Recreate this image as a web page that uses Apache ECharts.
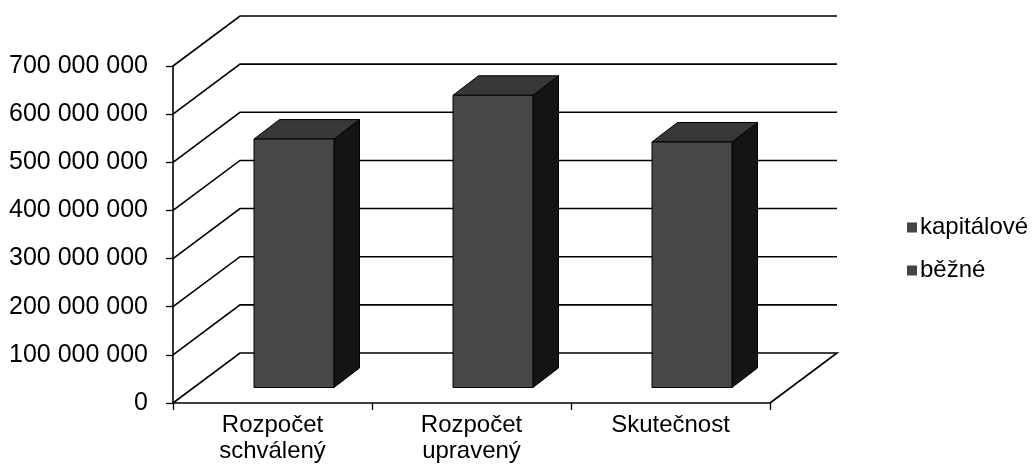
<!DOCTYPE html>
<html>
<head>
<meta charset="utf-8">
<script src="https://cdn.jsdelivr.net/npm/echarts@6/dist/echarts.min.js"></script>
<style>
html,body{margin:0;padding:0;background:#fff;}
#c{width:1035px;height:475px;}
</style>
</head>
<body>
<div id="c"></div>
<script>
const categories = ['Rozpočet\nschválený', 'Rozpočet\nupravený', 'Skutečnost'];
const bezne = [516000000, 607000000, 510000000];
const kapitalove = [0, 0, 0];
const yTicks = [0, 100000000, 200000000, 300000000, 400000000, 500000000, 600000000, 700000000];

const DX = 67, DY = -50;           // depth of back wall
const OX = 21.5, OY = -15.5;       // bar front offset into depth
const BDX = 25.5, BDY = -19.5;     // bar depth
const FONT = 'Liberation Sans, Arial, sans-serif';

function fmt(v) { return String(v).replace(/\B(?=(\d{3})+(?!\d))/g, ' '); }

// stacked data: [catIndex, base, top]
const bezneData = bezne.map((v, i) => [i, 0, v]);
const kapData = kapitalove.map((v, i) => [i, bezne[i], bezne[i] + v]);

function barRender(params, api) {
  const cat = api.value(0), base = api.value(1), top = api.value(2);
  if (top <= base) return null;
  const c = api.coord([cat, base]);
  const t = api.coord([cat, top]);
  const band = api.size([1, 0])[0];
  const w = band * 0.402;
  const x0 = c[0] - w / 2 + OX, x1 = x0 + w;
  const yb = c[1] + OY, yt = t[1] + OY;
  const stroke = '#000';
  return {
    type: 'group',
    children: [
      { type: 'polygon', shape: { points: [[x1, yt], [x1 + BDX, yt + BDY], [x1 + BDX, yb + BDY], [x1, yb]] },
        style: { fill: '#141414', stroke: stroke, lineWidth: 1 } },
      { type: 'polygon', shape: { points: [[x0, yt], [x0 + BDX, yt + BDY], [x1 + BDX, yt + BDY], [x1, yt]] },
        style: { fill: '#383838', stroke: stroke, lineWidth: 1 } },
      { type: 'polygon', shape: { points: [[x0, yt], [x1, yt], [x1, yb], [x0, yb]] },
        style: { fill: '#474747', stroke: stroke, lineWidth: 1 } }
    ]
  };
}

function wallRender(params, api) {
  const v = api.value(1);
  const cs = params.coordSys;
  const y = api.coord([0, v])[1];
  const L = cs.x, R = cs.x + cs.width;
  const pts = [[L, y], [L + DX, y + DY], [R + DX, y + DY]];
  if (v === 0) pts.push([R, y]);
  return { type: 'polyline', shape: { points: pts }, style: { stroke: '#000', lineWidth: 1.6, fill: null } };
}

const chart = echarts.init(document.getElementById('c'), null, { renderer: 'canvas' });
chart.setOption({
  backgroundColor: '#fff',
  animation: false,
  grid: { left: 173, right: 265, top: 66, bottom: 72, containLabel: false },
  legend: {
    data: ['kapitálové', 'běžné'],
    orient: 'vertical',
    left: 902,
    top: 210,
    icon: 'rect',
    itemWidth: 10,
    itemHeight: 10,
    itemGap: 18,
    textStyle: { fontFamily: FONT, fontSize: 24, color: '#000', lineHeight: 25, padding: [0, 0, 0, -2] }
  },
  xAxis: {
    type: 'category',
    data: categories,
    axisLine: { lineStyle: { color: '#000', width: 1.6 } },
    axisTick: { show: true, length: 7, lineStyle: { color: '#000', width: 1.3 } },
    axisLabel: { color: '#000', fontFamily: FONT, fontSize: 24, lineHeight: 26, margin: 9 },
    splitLine: { show: false }
  },
  yAxis: {
    type: 'value',
    min: 0, max: 700000000, interval: 100000000,
    axisLine: { show: true, lineStyle: { color: '#000', width: 1.6 } },
    axisTick: { show: true, length: 7, lineStyle: { color: '#000', width: 1.3 } },
    axisLabel: { color: '#000', fontFamily: FONT, fontSize: 25, margin: 25, formatter: fmt },
    splitLine: { show: false }
  },
  series: [
    { type: 'custom', name: 'walls', renderItem: wallRender, data: yTicks.map(v => [0, v]), z: 1, silent: true, clip: false },
    { type: 'custom', name: 'běžné', renderItem: barRender, data: bezneData, z: 3, itemStyle: { color: '#444' }, clip: false },
    { type: 'custom', name: 'kapitálové', renderItem: barRender, data: kapData, z: 4, itemStyle: { color: '#444' }, clip: false }
  ]
});
</script>
</body>
</html>
